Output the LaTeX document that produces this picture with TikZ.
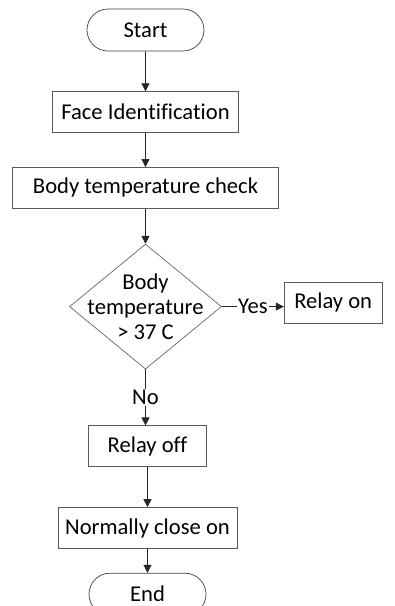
\documentclass[tikz,border=0pt]{standalone}
\usepackage{fontspec}
\setmainfont[Ligatures=NoCommon]{Carlito}
\usetikzlibrary{arrows.meta,positioning,shapes.geometric,shapes.misc}

\tikzset{
  flowbox/.style={draw=black!65,line width=0.7pt,rectangle,inner sep=0pt,minimum height=41pt},
  terminal/.style={draw=black!75,line width=0.7pt,rounded rectangle,inner sep=0pt,minimum width=117pt,minimum height=42pt},
  decision/.style={draw=black!60,line width=0.7pt,diamond,inner sep=-30pt,minimum width=152pt,minimum height=125pt,align=center},
  flow/.style={draw=black!85,line width=0.7pt,-{Triangle[length=8pt,width=8pt]}},
}

\begin{document}
\begin{tikzpicture}[x=1pt,y=1pt,font=\fontsize{22.6}{25}\selectfont]
  \useasboundingbox (0,0) rectangle (395,-606);
  \node (start) [terminal] at (145.5,-30) {Start};
  \node (face) [flowbox,minimum width=186pt,below=40pt of start] {Face Identification};
  \node (check) [flowbox,minimum width=266pt,below=34pt of face] {Body temperature check};
  \node (dec) [decision,below=35pt of check] {Body\\temperature\\> 37 C};
  \node (ron) [flowbox,minimum width=98pt,right=62pt of dec,yshift=4pt] {Relay on};
  \node (roff) [flowbox,minimum width=118pt,below=56pt of dec,xshift=2pt] {Relay off};
  \node (nco) [flowbox,minimum width=179pt,below=40pt of roff] {Normally close on};
  \node (stop) [terminal,below=24pt of nco] {End};

  \draw[flow] (start) -- (face);
  \draw[flow] (face) -- (check);
  \draw[flow] (check) -- (dec);
  \draw[flow] (dec.east) -- node[fill=white,inner sep=1pt]{Yes} (dec.east -| ron.west);
  \draw[flow] (dec.south) -- node[fill=white,inner sep=1pt]{No} (dec.south |- roff.north);
  \draw[flow] (roff) -- (nco);
  \draw[flow] (nco) -- (stop);
\end{tikzpicture}
\end{document}
